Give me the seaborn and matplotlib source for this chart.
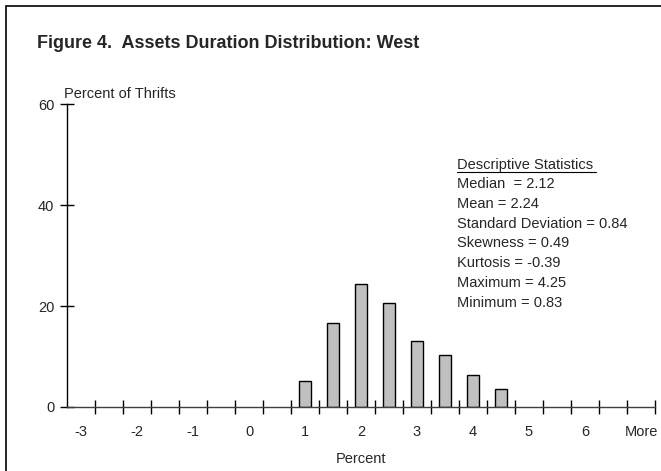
import matplotlib
matplotlib.use("Agg")
import matplotlib.pyplot as plt
import seaborn as sns
import pandas as pd
from matplotlib.patches import Rectangle

# histogram bins (Excel style, last bin "More")
bins = ["-3", "-2.5", "-2", "-1.5", "-1", "-0.5", "0", "0.5", "1", "1.5", "2",
        "2.5", "3", "3.5", "4", "4.5", "5", "5.5", "6", "6.5", "More"]
bar_bins = ["1", "1.5", "2", "2.5", "3", "3.5", "4", "4.5"]
pct_thrifts = [5.1, 16.6, 24.4, 20.5, 13.0, 10.2, 6.3, 3.6]
shown_labels = ["-3", "-2", "-1", "0", "1", "2", "3", "4", "5", "6", "More"]

stats_lines = [
    "Median  = 2.12",
    "Mean = 2.24",
    "Standard Deviation = 0.84",
    "Skewness = 0.49",
    "Kurtosis = -0.39",
    "Maximum = 4.25",
    "Minimum = 0.83",
]

sns.set_style("white")
plt.rcParams["font.family"] = ["Liberation Sans", "DejaVu Sans"]
FS = 10.5

df = pd.DataFrame({"bin": bar_bins, "pct": pct_thrifts})

W, H = 661, 471
fig = plt.figure(figsize=(W / 100, H / 100), dpi=100)
ax = fig.add_axes([67 / W, 1 - 407 / H, (655 - 67) / W, (407 - 104) / H])

sns.barplot(data=df, x="bin", y="pct", order=bins, color="#c0c0c0",
            edgecolor="black", linewidth=1, width=0.42, saturation=1, ax=ax)

ax.set_xlim(-0.5, len(bins) - 0.5)
ax.set_ylim(0, 60)

# labels under every other bin, tick marks at bin boundaries
label_pos = [bins.index(b) for b in shown_labels]
ax.set_xticks(label_pos)
ax.set_xticklabels(shown_labels, fontsize=FS)
ax.set_xticks([i + 0.5 for i in range(len(bins))], minor=True)
ax.tick_params(axis="x", which="both", bottom=True)
ax.tick_params(axis="x", which="major", length=0, pad=13)
ax.tick_params(axis="x", which="minor", direction="inout", length=10,
               width=1, color="black")

ax.set_yticks([0, 20, 40, 60])
ax.set_yticklabels(["0", "20", "40", "60"], fontsize=FS)
ax.tick_params(axis="y", left=True, direction="inout", length=10, width=1,
               color="black", pad=4)

for s in ["top", "right"]:
    ax.spines[s].set_visible(False)
ax.spines["left"].set_color("black")
ax.spines["left"].set_linewidth(1)
ax.spines["bottom"].set_color("#404040")
ax.spines["bottom"].set_linewidth(1)

ax.set_xlabel("Percent", fontsize=FS, labelpad=9)
ax.set_ylabel("")

fig.text(64 / W, 1 - 94 / H, "Percent of Thrifts", fontsize=FS,
         ha="left", va="center")
fig.text(37 / W, 1 - 43 / H, "Figure 4.  Assets Duration Distribution: West",
         fontsize=13, fontweight="bold", ha="left", va="center")

# descriptive statistics box
fig.text(457 / W, 1 - 165 / H, "Descriptive Statistics", fontsize=FS,
         ha="left", va="center")
fig.add_artist(plt.Line2D([457 / W, 596 / W], [1 - 171.5 / H, 1 - 171.5 / H],
                          color="black", linewidth=0.8))
for i, line in enumerate(stats_lines):
    fig.text(457 / W, 1 - (184 + i * 19.8) / H, line, fontsize=FS,
             ha="left", va="center")

# frame around the figure (right/bottom edges cut off in the original)
fig.add_artist(Rectangle((6 / W, -0.1), 1.2, 1 - 6 / H + 0.1,
                         transform=fig.transFigure, fill=False,
                         edgecolor="black", linewidth=1.2))

fig.savefig("out.png", dpi=100)
